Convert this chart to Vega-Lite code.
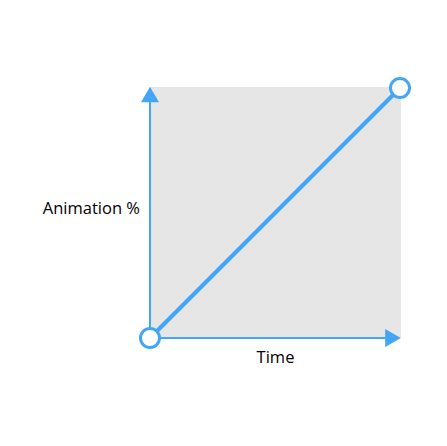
{
  "$schema": "https://vega.github.io/schema/vega-lite/v6.json",
  "width": 447,
  "height": 446,
  "padding": 0,
  "autosize": {"type": "none"},
  "background": "white",
  "config": {"view": {"stroke": null}, "axis": {"disable": true}},
  "layer": [
    {
      "data": {"values": [{"x0": 0, "x1": 1.004, "y0": 0, "y1": 1.004}]},
      "mark": {"type": "rect", "color": "#e6e6e6"},
      "encoding": {
        "x": {"field": "x0", "type": "quantitative", "scale": {"domain": [-0.6, 1.188], "nice": false, "zero": false}, "axis": null},
        "x2": {"field": "x1"},
        "y": {"field": "y0", "type": "quantitative", "scale": {"domain": [-0.432, 1.352], "nice": false, "zero": false}, "axis": null},
        "y2": {"field": "y1"}
      }
    },
    {
      "data": {"values": [{"x0": 0, "x1": 0, "y0": 0, "y1": 0.95}, {"x0": 0, "x1": 0.95, "y0": 0, "y1": 0}]},
      "mark": {"type": "rule", "color": "#42A5F5", "strokeWidth": 2},
      "encoding": {
        "x": {"field": "x0", "type": "quantitative"},
        "x2": {"field": "x1"},
        "y": {"field": "y0", "type": "quantitative"},
        "y2": {"field": "y1"}
      }
    },
    {
      "data": {"values": [{"x": 0, "y": 0.974, "shape": "triangle-up"}, {"x": 0.972, "y": 0, "shape": "triangle-right"}]},
      "mark": {"type": "point", "filled": true, "color": "#42A5F5", "opacity": 1, "size": 324},
      "encoding": {
        "x": {"field": "x", "type": "quantitative"},
        "y": {"field": "y", "type": "quantitative"},
        "shape": {"field": "shape", "type": "nominal", "scale": null}
      }
    },
    {
      "data": {"values": [{"x": 0, "y": 0}, {"x": 1, "y": 1}]},
      "mark": {"type": "line", "color": "#42A5F5", "strokeWidth": 4},
      "encoding": {
        "x": {"field": "x", "type": "quantitative"},
        "y": {"field": "y", "type": "quantitative"}
      }
    },
    {
      "data": {"values": [{"x": 0, "y": 0}, {"x": 1, "y": 1}]},
      "mark": {"type": "point", "shape": "circle", "filled": true, "fill": "white", "stroke": "#42A5F5", "strokeWidth": 3, "opacity": 1, "size": 361},
      "encoding": {
        "x": {"field": "x", "type": "quantitative"},
        "y": {"field": "y", "type": "quantitative"}
      }
    },
    {
      "data": {"values": [{"x": -0.04, "y": 0.516, "label": "Animation %"}]},
      "mark": {"type": "text", "align": "right", "baseline": "middle", "font": "Open Sans", "fontSize": 16.5, "color": "black"},
      "encoding": {
        "x": {"field": "x", "type": "quantitative"},
        "y": {"field": "y", "type": "quantitative"},
        "text": {"field": "label"}
      }
    },
    {
      "data": {"values": [{"x": 0.502, "y": -0.08, "label": "Time"}]},
      "mark": {"type": "text", "align": "center", "baseline": "middle", "font": "Open Sans", "fontSize": 16.5, "color": "black"},
      "encoding": {
        "x": {"field": "x", "type": "quantitative"},
        "y": {"field": "y", "type": "quantitative"},
        "text": {"field": "label"}
      }
    }
  ]
}
